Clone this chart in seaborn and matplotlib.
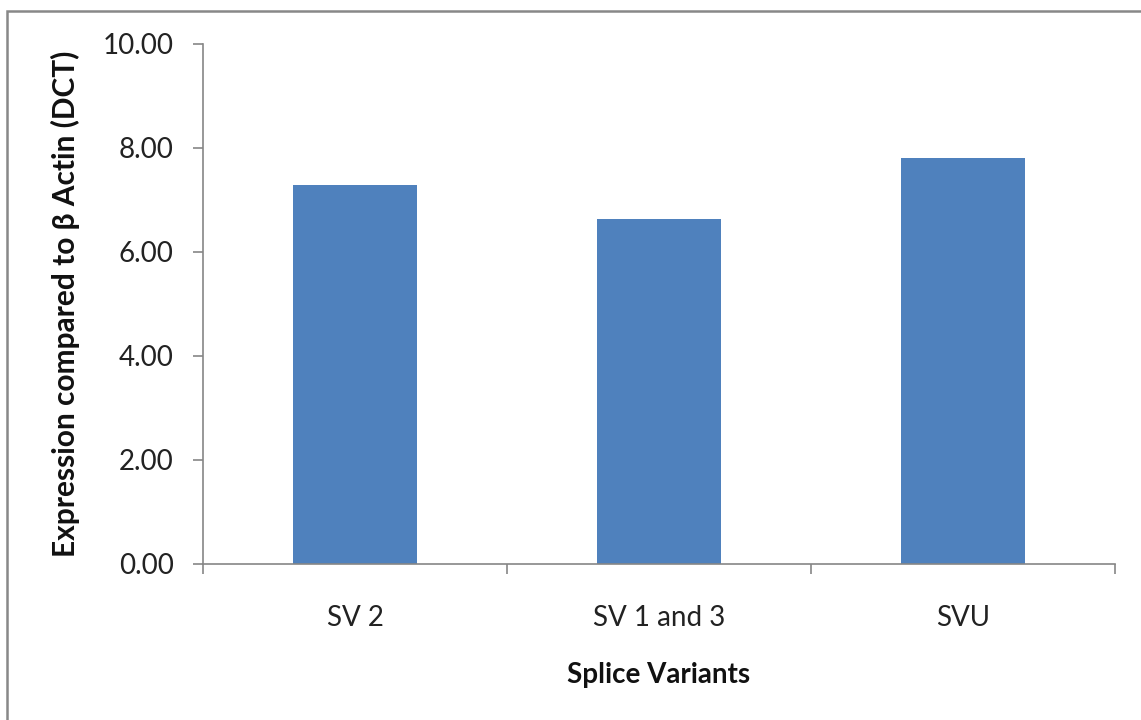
import matplotlib
matplotlib.use("Agg")
import matplotlib.pyplot as plt
import seaborn as sns
import pandas as pd
from matplotlib.patches import Rectangle
from matplotlib.ticker import FixedLocator, FormatStrFormatter

categories = ["SV 2", "SV 1 and 3", "SVU"]
values = [7.28, 6.62, 7.80]
y_ticks = [0, 2, 4, 6, 8, 10]

sns.set_theme(style="white")
plt.rcParams['font.family'] = ['Lato', 'DejaVu Sans']

df = pd.DataFrame({"cat": categories, "val": values})

fig = plt.figure(figsize=(11.41, 7.2), dpi=100)
ax = fig.add_axes([203/1141, 1 - 563.5/720, (1115-203)/1141, (563.5-43.5)/720])

sns.barplot(data=df, x="cat", y="val", ax=ax, color="#4F81BD", saturation=1,
            width=0.405, edgecolor="none")

gray = "#868686"
ax.set_ylim(0, 10)
ax.set_xlim(-0.5, 2.5)
ax.set_yticks(y_ticks)
ax.yaxis.set_major_formatter(FormatStrFormatter("%.2f"))
for s in ["top", "right"]:
    ax.spines[s].set_visible(False)
for s in ["left", "bottom"]:
    ax.spines[s].set_color(gray)
    ax.spines[s].set_linewidth(1.2)

ax.tick_params(axis="y", which="major", direction="out", length=7.2, width=1.2,
               color=gray, labelsize=20, pad=14, labelcolor="#222222", left=True)
# category boundaries as major ticks, labels on minor ticks
ax.xaxis.set_major_locator(FixedLocator([-0.5, 0.5, 1.5, 2.5]))
ax.xaxis.set_major_formatter(plt.NullFormatter())
ax.xaxis.set_minor_locator(FixedLocator([0, 1, 2]))
ax.xaxis.set_minor_formatter(plt.FixedFormatter(categories))
ax.tick_params(axis="x", which="major", direction="out", length=7.2, width=1.2,
               color=gray, bottom=True)
ax.tick_params(axis="x", which="minor", length=0, labelsize=20, pad=30,
               labelcolor="#222222", bottom=True)

ax.set_xlabel("Splice Variants", fontsize=20, fontweight="bold", labelpad=22, color="#111111")
ax.set_ylabel("Expression compared to β Actin (DCT)", fontsize=21.5, fontweight="bold",
              labelpad=16, color="#111111")

fig.patches.append(Rectangle((7/1141, -0.1), 1.2, 1 - 11/720 + 0.1,
                             transform=fig.transFigure, fill=False,
                             edgecolor="#888888", linewidth=1.8))

fig.savefig("out.png", dpi=100)
